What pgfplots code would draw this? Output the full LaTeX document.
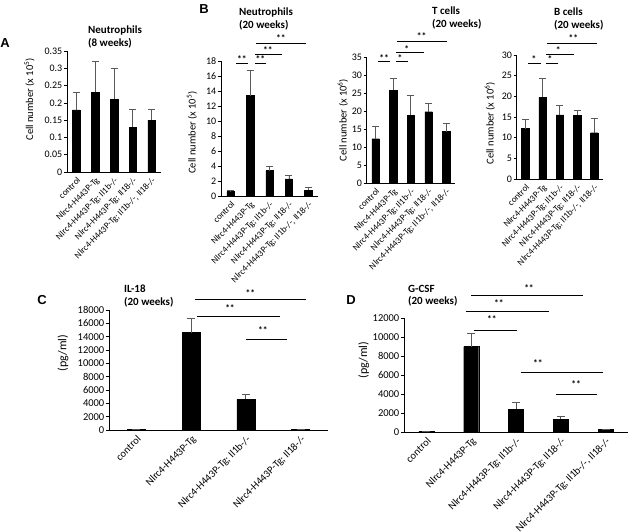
\documentclass[border=0pt]{standalone}
\usepackage{fontspec}
\setmainfont{Carlito}
\newfontfamily\arialf{Liberation Sans}
\usepackage{pgfplots}
\pgfplotsset{compat=1.18}
\pgfplotsset{
  panel/.style={
    scale only axis, axis lines=left,
    axis line style={-, black, line width=0.8pt},
    ybar, ymin=0, xmin=-0.5, xmax=4.5,
    xtick={0,...,4}, xtick style={draw=none},
    ytick style={black, line width=0.6pt}, tick align=outside, major tick length=3pt,
    /pgf/number format/assume math mode=true,
    /pgf/number format/fixed, /pgf/number format/1000 sep={},
    scaled y ticks=false, clip=false,
    x tick label style={rotate=45, anchor=north east, inner sep=1pt},
    y tick label style={inner sep=1.5pt},
  },
  lab5/.style={xticklabels={control, Nlrc4-H443P-Tg, Nlrc4-H443P-Tg; Il1b-/-, Nlrc4-H443P-Tg; Il18-/-, {Nlrc4-H443P-Tg; Il1b-/-, Il18-/-}}},
  barsty/.style 2 args={fill=black, draw=black, bar width=#1,
    error bars/.cd, y dir=plus, y explicit,
    error bar style={black!65, line width=0.8pt},
    error mark options={rotate=90, mark size=#2, black!65, line width=0.8pt}},
  small/.style={
    ylabel style={font=\fontsize{10.5}{11}\selectfont},
    y tick label style={font=\fontsize{10}{10}\selectfont},
    x tick label style={font=\fontsize{9}{9}\selectfont}},
}
\newcommand{\sig}[4]{\draw[line width=0.8pt] (axis cs:#1,#3) -- (axis cs:#2,#3);}
\newcommand{\st}[3]{\node[font=\bfseries\fontsize{9.5}{9}\selectfont, inner sep=0] at (axis cs:#1,#2) {#3};}
\begin{document}
\begin{tikzpicture}
\useasboundingbox (0,0) rectangle (630pt,-531pt);
% panel letters
\node[font=\arialf\bfseries\fontsize{13}{13}\selectfont] at (5pt,-43pt) {A};
\node[font=\arialf\bfseries\fontsize{13}{13}\selectfont] at (204pt,-9pt) {B};
\node[font=\arialf\bfseries\fontsize{13}{13}\selectfont] at (42pt,-300pt) {C};
\node[font=\arialf\bfseries\fontsize{13}{13}\selectfont] at (351pt,-300pt) {D};
% titles
\node[anchor=north west, inner sep=0, align=left, font=\bfseries\fontsize{11}{13}\selectfont] at (88pt,-26pt) {Neutrophils\\(8 weeks)};
\node[anchor=north west, inner sep=0, align=left, font=\bfseries\fontsize{11}{13}\selectfont] at (239pt,-8pt) {Neutrophils\\(20 weeks)};
\node[anchor=north west, inner sep=0, align=left, font=\bfseries\fontsize{11}{13}\selectfont] at (432pt,-7pt) {T cells\\(20 weeks)};
\node[anchor=north west, inner sep=0, align=left, font=\bfseries\fontsize{11}{13}\selectfont] at (554pt,-8pt) {B cells\\(20 weeks)};
\node[anchor=north west, inner sep=0, align=left, font=\bfseries\fontsize{11}{12.5}\selectfont] at (124pt,-285pt) {IL-18\\(20 weeks)};
\node[anchor=north west, inner sep=0, align=left, font=\bfseries\fontsize{11}{12.5}\selectfont] at (408pt,-285pt) {G-CSF\\(20 weeks)};

% ---------- A ----------
\begin{axis}[panel, lab5, small, at={(67pt,-172pt)}, anchor=south west, width=94pt, height=121pt,
  ymax=0.35, ytick={0,0.05,0.1,0.15,0.2,0.25,0.3,0.35},
  ylabel={Cell number (x 10\textsuperscript{5})},
  ylabel style={at={(axis description cs:-0.40,0.6)}, anchor=center}]
\addplot[barsty={7.5pt}{3.5pt}] coordinates {(0,0.18) +- (0,0.05) (1,0.23) +- (0,0.09) (2,0.21) +- (0,0.09) (3,0.13) +- (0,0.05) (4,0.15) +- (0,0.03)};
\end{axis}

% ---------- B neutrophils ----------
\begin{axis}[panel, lab5, small, at={(221pt,-196pt)}, anchor=south west, width=97pt, height=135pt,
  ymax=18, ytick={0,2,...,18},
  ylabel={Cell number (x 10\textsuperscript{5})},
  ylabel style={at={(axis description cs:-0.30,0.47)}, anchor=center}]
\addplot[barsty={7.5pt}{3.5pt}] coordinates {(0,0.6) +- (0,0.1) (1,13.4) +- (0,3.4) (2,3.4) +- (0,0.6) (3,2.3) +- (0,0.45) (4,0.8) +- (0,0.4)};
\sig{0.27}{0.89}{17.7}{} \st{0.58}{18.3}{**}
\sig{1.25}{1.82}{17.7}{} \st{1.53}{18.3}{**}
\sig{1.25}{2.64}{18.9}{} \st{1.92}{19.4}{**}
\sig{1.30}{3.88}{20.4}{} \st{2.59}{21.0}{**}
\end{axis}

% ---------- T cells ----------
\begin{axis}[panel, lab5, small, at={(366.7pt,-183pt)}, anchor=south west, width=88.3pt, height=126pt,
  ymax=35, ytick={0,5,...,35},
  ylabel={Cell number (x 10\textsuperscript{6})},
  ylabel style={at={(axis description cs:-0.27,0.5)}, anchor=center}]
\addplot[barsty={7.5pt}{3.5pt}] coordinates {(0,12.3) +- (0,3.4) (1,25.7) +- (0,3.3) (2,18.8) +- (0,5.4) (3,19.8) +- (0,2.2) (4,14.3) +- (0,2.3)};
\sig{0.16}{0.82}{33.7}{} \st{0.48}{34.8}{**}
\sig{1.16}{1.82}{33.7}{} \st{1.39}{34.8}{*}
\sig{1.16}{2.74}{36.2}{} \st{1.77}{37.3}{*}
\sig{1.23}{4.06}{39.4}{} \st{2.61}{40.7}{**}
\end{axis}

% ---------- B cells ----------
\begin{axis}[panel, lab5, small, at={(516.7pt,-179pt)}, anchor=south west, width=86.3pt, height=124pt,
  ymax=30, ytick={0,5,...,30},
  ylabel={Cell number (x 10\textsuperscript{6})},
  ylabel style={at={(axis description cs:-0.31,0.45)}, anchor=center}]
\addplot[barsty={7.5pt}{3.5pt}] coordinates {(0,12.2) +- (0,2.3) (1,19.8) +- (0,4.5) (2,15.5) +- (0,2.2) (3,15.4) +- (0,1.1) (4,11.2) +- (0,3.4)};
\sig{0.17}{0.89}{28.0}{} \st{0.50}{29.0}{*}
\sig{1.20}{1.88}{28.0}{} \st{1.43}{29.0}{*}
\sig{1.20}{2.82}{30.2}{} \st{1.91}{31.1}{*}
\sig{1.27}{4.17}{32.9}{} \st{2.78}{34.0}{**}
\end{axis}

% ---------- C ----------
\begin{axis}[panel, at={(109pt,-430pt)}, anchor=south west, width=219pt, height=120pt,
  xmin=-0.5, xmax=3.5, xtick={0,...,3},
  xticklabels={control, Nlrc4-H443P-Tg, Nlrc4-H443P-Tg; Il1b-/-, Nlrc4-H443P-Tg; Il18-/-},
  ymax=18000, ytick={0,2000,...,18000},
  ylabel={(pg/ml)},
  ylabel style={at={(axis description cs:-0.21,0.64)}, anchor=center, font=\fontsize{12}{12}\selectfont},
  y tick label style={font=\fontsize{10.5}{10}\selectfont},
  x tick label style={font=\fontsize{10.5}{11}\selectfont}]
\addplot[barsty={18pt}{4pt}] coordinates {(0,120) +- (0,0) (1,14600) +- (0,2100) (2,4600) +- (0,700) (3,120) +- (0,0)};
\sig{1.07}{3.10}{19650}{} \st{2.08}{20600}{**}
\sig{1.11}{2.62}{17100}{} \st{1.71}{18300}{**}
\sig{2.00}{2.75}{13650}{} \st{2.31}{15000}{**}
\end{axis}

% ---------- D ----------
\begin{axis}[panel, lab5, at={(404pt,-432pt)}, anchor=south west, width=224pt, height=114pt,
  ymax=12000, ytick={0,2000,...,12000},
  ylabel={(pg/ml)},
  ylabel style={at={(axis description cs:-0.18,0.63)}, anchor=center, font=\fontsize{12}{12}\selectfont},
  y tick label style={font=\fontsize{10.5}{10}\selectfont},
  x tick label style={font=\fontsize{10.5}{11}\selectfont}]
\addplot[barsty={15pt}{4pt}] coordinates {(0,100) +- (0,0) (1,9000) +- (0,1400) (2,2400) +- (0,700) (3,1350) +- (0,300) (4,250) +- (0,50)};
\sig{1.00}{3.50}{14426}{} \st{2.29}{15100}{**}
\sig{0.88}{2.74}{12740}{} \st{1.62}{13600}{**}
\sig{1.06}{2.02}{10740}{} \st{1.46}{11900}{**}
\sig{2.11}{3.94}{6320}{} \st{2.49}{7300}{**}
\sig{2.89}{3.81}{4000}{} \st{3.34}{5000}{**}
\end{axis}
\end{tikzpicture}
\end{document}
